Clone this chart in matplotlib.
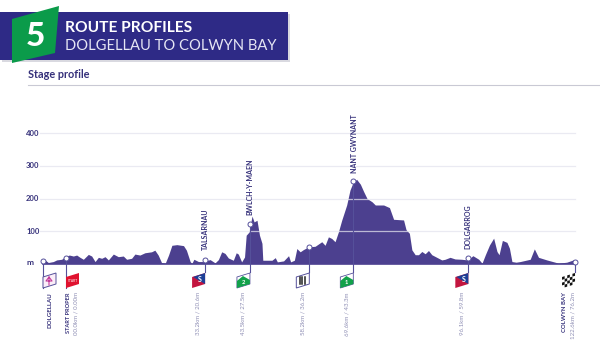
import matplotlib
matplotlib.use("Agg")
import matplotlib.pyplot as plt
from matplotlib.patches import Polygon, Rectangle

plt.rcParams['font.family'] = ['Lato', 'DejaVu Sans']

navy = '#2e2a86'
purple = '#4c408f'
label_col = '#35307a'
grey_txt = '#8f8fb5'

# profile
km = [-5.6, -5.06, -4.26, -3.05, -2.25, -1.04, -0.24, 0.8, 1.77, 2.57, 3.37, 4.18, 5.38, 6.18, 7, 7.8, 8.6, 9.4,
      10.2, 11.4, 12.6, 13.8, 14.6, 15.8, 16.6, 17.8, 19, 20.6, 21.4, 22.2, 23, 23.9, 24.7, 25.5, 26.7, 28.3, 29,
      29.9, 30.3, 30.8, 31.9, 33, 34.7, 35.9, 36.7, 37.5, 38.3, 39.1, 40.3, 41, 41.5, 42.3, 43, 43.4, 44.1, 44.8,
      45.3, 46, 46.6, 47.2, 47.4, 48.4, 49.6, 50.4, 50.9, 52.4, 53.6, 54.1, 55, 55.6, 56.4, 57.2, 58.4, 60, 61.6,
      62.4, 63.2, 64, 64.8, 65.6, 66.4, 67.6, 68.4, 69.2, 70, 70.9, 71.7, 72.5, 73.7, 74.5, 76.5, 77.9, 78.9, 81.3,
      81.9, 82.7, 83.3, 84.1, 84.9, 85.7, 86.5, 87.3, 88.1, 89.3, 90.5, 91.3, 92.5, 93.7, 95.3, 96.7, 98, 99.4,
      100.2, 101, 102, 103, 103.8, 104.3, 105.1, 106.2, 106.8, 107.4, 108.4, 109.4, 111.8, 112.8, 113.8, 115.8,
      117.8, 118.6, 120.6, 122.2, 122.6]
elev = [0, 11, 3, 6, 11, 13, 21, 26, 23, 26, 19, 13, 28, 23, 6, 19, 16, 21,
        11, 29, 21, 23, 13, 16, 29, 26, 33, 36, 41, 26, 3, 1, 26, 56, 58, 55, 41,
        6, 0, 13, 6, 6, 12, 2, 12, 36, 31, 17, 10, 33, 29, 5, 20, 87, 97, 146,
        128, 133, 87, 62, 10, 10, 10, 18, 5, 8, 24, 5, 10, 46, 36, 43, 51, 53, 67,
        56, 82, 77, 67, 97, 133, 180, 226, 251, 259, 244, 221, 200, 190, 180, 180, 172, 136, 134,
        104, 93, 42, 27, 27, 37, 30, 40, 27, 19, 11, 13, 19, 14, 13, 11, 24, 13,
        1, 27, 57, 78, 37, 27, 71, 65, 47, 6, 4, 6, 13, 45, 19, 11,
        4, 1, 4, 11, 7]

point_km = [-5.54, 0, 33.5, 44.3, 58.6, 69.2, 96.9, 122.6]
point_elev = [8, 17, 12, 121, 51, 254, 18, 6]
grid_vals = [100, 200, 300, 400]
y_labels = ['100', '200', '300', '400']

climb_names = ['TALSARNAU', 'BWLCH-Y-MAEN', 'NANT GWYNANT', 'DOLGARROG']
climb_km = [33.6, 44.3, 69.4, 96.9]
climb_bottom = [42, 148, 277, 44]

dist_labels = ['00.0km / 0.00m', '33.2km / 20.6m', '43.5km / 27.5m', '58.2km / 36.2m',
               '69.6km / 43.3m', '96.1km / 59.8m', '122.6km / 76.2m']
dist_km = [2.4, 31.8, 42.6, 57.1, 67.7, 95.4, 122.1]

W, H = 600, 357
fig = plt.figure(figsize=(6, 3.57), dpi=100)
ax = fig.add_axes([0, 0, 1, 1])
x_scale = 4.152
y_scale = 0.325
ax.set_xlim(-66 / x_scale, (W - 66) / x_scale)
ax.set_ylim((263.5 - H) / y_scale, 263.5 / y_scale)
ax.axis('off')

# overlay in pixels for header and flags
ov = fig.add_axes([0, 0, 1, 1])
ov.set_xlim(0, W)
ov.set_ylim(H, 0)
ov.axis('off')
ov.patch.set_alpha(0)


def px(k):
    return (k + 66 / x_scale) * x_scale


ax.fill_between(km, 0, elev, color=purple, lw=0, zorder=2)
ax.plot([km[0], km[-1]], [0, 0], color=purple, lw=1.2, zorder=2)
for v, t in zip(grid_vals, y_labels):
    ax.plot([-6.2, 122.6], [v, v], color='#e3e3ee', lw=0.9, zorder=3, alpha=0.75)
    ax.text(-8, v, t, fontsize=5.5, fontweight='bold', color=label_col, ha='center', va='center')
ax.text(-8.7, 2, 'm', fontsize=6, fontweight='bold', color=label_col, ha='center', va='center')

# stems and rings
for k, e in zip(point_km, point_elev):
    ax.plot([k, k], [e, -27 if k > 0 else -75], color='#55509a', lw=0.8, zorder=4)
ax.plot(point_km, point_elev, ls='', marker='o', ms=3.6, mfc='white', mec='#55509a', mew=0.7, zorder=5)

for name, k, b in zip(climb_names, climb_km, climb_bottom):
    ax.text(k, b, name, rotation=90, fontsize=5, fontweight='bold',
            color=label_col, ha='center', va='bottom', zorder=6)

# distance labels under flags
for t, k in zip(dist_labels, dist_km):
    ax.text(k, -88, t, rotation=90, fontsize=4.4, color=grey_txt, ha='center', va='top')
ax.text(-3.8, -88, 'DOLGELLAU', rotation=90, fontsize=4.4, fontweight='bold', color=label_col, ha='center', va='top')
ax.text(0.5, -88, 'START PROPER', rotation=90, fontsize=4.1, fontweight='bold', color=label_col, ha='center', va='top')
ax.text(120, -88, 'COLWYN BAY', rotation=90, fontsize=4.3, fontweight='bold', color=label_col, ha='center', va='top')


def flag_pts(x0):
    return [(x0, 277), (x0 + 13, 273), (x0 + 13, 284), (x0, 288)]


# start flags: stem on the left
ov.add_patch(Polygon(flag_pts(px(-5.54)), fc='#fbeef8', ec='#55509a', lw=0.7))
ov.plot([49, 46, 52, 49, 49], [277, 281, 281, 277, 285], color='#c23a9a', lw=0.8)
ov.add_patch(Polygon(flag_pts(px(0)), fc='#e0122f', ec='none'))
ov.text(px(0) + 6.5, 280.5, 'START', fontsize=2.4, color='white', ha='center', va='center')

# sprint flags
for k in [33.5, 96.9]:
    x0 = px(k) - 13
    ov.add_patch(Polygon(flag_pts(x0), fc='#c3153f', ec='none'))
    ov.add_patch(Polygon([(x0 + 1, 277), (x0 + 13, 273), (x0 + 13, 284)], fc='#1d3f97', ec='none'))
    ov.text(x0 + 8, 280, 'S', fontsize=5, fontweight='bold', color='white', ha='center', va='center')

# climb flags
for k, n in zip([44.3, 69.2], ['2', '1']):
    x0 = px(k) - 13
    ov.add_patch(Polygon(flag_pts(x0), fc='white', ec='#55509a', lw=0.6))
    ov.add_patch(Polygon([(x0, 288), (x0, 281), (x0 + 6, 276), (x0 + 13, 280), (x0 + 13, 284)], fc='#12a14a', ec='none'))
    ov.text(x0 + 6.5, 282, n, fontsize=4.2, fontweight='bold', color='white', ha='center', va='center')

# feed flag
x0 = px(58.6) - 13
ov.add_patch(Polygon(flag_pts(x0), fc='white', ec='#55509a', lw=0.7))
for dx in [4, 6, 8.5]:
    ov.plot([x0 + dx, x0 + dx], [277, 284], color='#222222', lw=1.1)

# finish flag
x0 = px(122.6) - 13
ov.add_patch(Polygon(flag_pts(x0), fc='white', ec='none'))
for i in range(5):
    for j in range(4):
        if (i + j) % 2 == 0:
            xa = x0 + i * 2.6
            ya = 277 - i * 0.8 + j * 2.8
            ov.add_patch(Polygon([(xa, ya), (xa + 2.6, ya - 0.8), (xa + 2.6, ya + 2), (xa, ya + 2.8)], fc='#111111', ec='none'))

# header
ov.add_patch(Rectangle((2, 14), 288, 48, fc='#d9d9e0', ec='none'))
ov.add_patch(Rectangle((0, 12), 288, 48, fc=navy, ec='none'))
ov.add_patch(Polygon([(12, 19), (59, 6), (55, 53), (12, 63)], fc='#0b9b4a', ec='none'))
ov.text(35, 37, '5', fontsize=24, fontweight='black', color='white', ha='center', va='center')
ov.text(65, 27.5, 'ROUTE PROFILES', fontsize=11.2, fontweight='bold', color='white', ha='left', va='center')
ov.text(65, 46, 'DOLGELLAU TO COLWYN BAY', fontsize=10.6, color='#e6e6f4', ha='left', va='center')
ov.text(28, 75, 'Stage profile', fontsize=7.8, fontweight='bold', color=label_col, ha='left', va='center')
ov.plot([28, 600], [84.5, 84.5], color='#c9c9d4', lw=0.8)

fig.savefig('out.png', dpi=100)
